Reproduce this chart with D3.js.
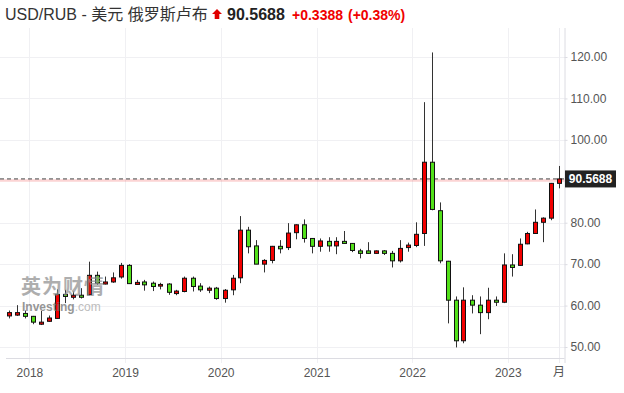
<!DOCTYPE html>
<html><head><meta charset="utf-8">
<script src="https://cdn.jsdelivr.net/npm/d3@7/dist/d3.min.js"></script>
<style>
html,body{margin:0;padding:0;background:#fff;}
svg{display:block;}
</style></head>
<body>
<svg id="chart" width="624" height="393"></svg>
<script>
const months = ["2017-10","2017-11","2017-12",
"2018-01","2018-02","2018-03","2018-04","2018-05","2018-06","2018-07","2018-08","2018-09","2018-10","2018-11","2018-12",
"2019-01","2019-02","2019-03","2019-04","2019-05","2019-06","2019-07","2019-08","2019-09","2019-10","2019-11","2019-12",
"2020-01","2020-02","2020-03","2020-04","2020-05","2020-06","2020-07","2020-08","2020-09","2020-10","2020-11","2020-12",
"2021-01","2021-02","2021-03","2021-04","2021-05","2021-06","2021-07","2021-08","2021-09","2021-10","2021-11","2021-12",
"2022-01","2022-02","2022-03","2022-04","2022-05","2022-06","2022-07","2022-08","2022-09","2022-10","2022-11","2022-12",
"2023-01","2023-02","2023-03","2023-04","2023-05","2023-06","2023-07"];
const openV = [57.5,57.7,58.1,
57.4,55.5,56.2,56.9,62.7,62.0,62.5,62.6,67.3,65.2,65.7,66.9,
69.7,65.1,65.7,65.4,64.7,65.2,62.9,63.4,66.6,64.7,63.7,64.2,
61.7,63.8,66.7,78.2,74.4,70.0,70.9,74.3,74.0,77.6,79.5,76.2,
74.3,75.5,74.4,75.5,75.0,73.2,73.2,72.6,73.2,72.6,70.8,74.0,
74.5,77.4,94.6,82.9,70.7,61.3,51.5,61.3,60.1,58.3,61.3,60.8,
69.8,69.7,74.9,77.4,80.1,81.1,89.5];
const highV = [58.8,60.1,58.8,
57.5,58.7,57.6,63.9,63.8,63.4,64.2,70.6,68.2,67.0,68.0,70.3,
70.0,66.2,66.2,65.8,65.5,65.4,63.8,67.0,67.0,65.4,64.6,64.5,
64.0,67.4,81.6,79.0,75.8,71.2,74.4,75.8,79.9,79.6,80.8,76.3,
76.2,76.5,76.5,78.0,75.1,73.7,75.3,73.3,73.4,73.2,75.8,75.2,
80.1,109.1,121.1,84.9,70.8,62.2,64.4,62.5,62.2,64.3,62.2,72.6,
72.4,76.2,77.8,83.2,81.3,89.6,93.7];
const lowV = [56.9,57.5,56.9,
55.5,55.3,56.1,56.8,60.6,61.5,61.7,62.5,65.0,65.1,65.5,66.5,
65.2,65.0,63.6,63.5,63.9,62.6,62.5,63.2,63.4,63.3,63.0,61.4,
60.7,62.5,65.4,72.6,70.0,68.0,70.2,72.6,73.4,76.0,75.2,72.6,
73.0,73.0,72.4,74.9,72.9,71.4,72.5,72.5,72.2,69.2,70.4,73.0,
74.1,74.4,83.0,70.2,55.7,49.9,50.9,58.1,53.1,56.7,59.9,60.6,
67.0,69.6,74.8,77.3,75.3,80.6,88.3];
const closeV = [58.3,58.3,57.4,
56.0,56.0,57.0,62.7,62.2,62.5,62.0,67.3,65.4,65.7,66.7,69.7,
65.3,65.6,65.0,64.6,65.1,63.2,63.5,66.6,64.6,63.8,64.2,61.7,
63.7,66.6,78.2,74.2,70.0,70.9,74.3,73.7,77.5,79.5,76.2,74.3,
75.6,74.4,75.5,75.0,73.3,72.6,72.6,73.2,72.6,70.8,73.8,74.6,
77.2,94.6,83.2,70.8,61.3,51.5,61.3,60.1,58.3,61.3,60.8,69.8,
69.2,74.8,77.4,80.1,81.1,89.5,90.5688];
const yTicks = [50,60,70,80,90,100,110,120];
const yearTicks = ["2018","2019","2020","2021","2022","2023"];
const lastPrice = 90.5688;
const titleText = "USD/RUB - 美元 俄罗斯卢布";
const priceText = "90.5688";
const changeText = "+0.3388";
const pctText = "(+0.38%)";

const svg = d3.select("#chart");
const plotL = 0, plotR = 564.5, plotT = 28, plotB = 358;
const parse = d3.timeParse("%Y-%m");
const x = d3.scaleTime().domain([new Date(2017,9,1), new Date(2023,7,1)]).range([5.3, 563.3]);
const y = d3.scaleLinear().domain([50,120]).range([347,57]);
const mid = m => { const d = parse(m); return new Date(d.getFullYear(), d.getMonth(), 16); };
const data = months.map((m,i)=>({m, t: mid(m), o: openV[i], h: highV[i], l: lowV[i], c: closeV[i]}));

// grid
const g = svg.append("g");
g.selectAll("line.hg").data(yTicks.filter(v=>v!==90)).enter().append("line")
  .attr("x1", plotL).attr("x2", plotR).attr("y1", d=>Math.round(y(d))+0.5).attr("y2", d=>Math.round(y(d))+0.5)
  .attr("stroke", "#f0f0f3").attr("stroke-width", 1);
const yearDates = yearTicks.map(s=>new Date(+s,0,1));
g.selectAll("line.vg").data(yearDates).enter().append("line")
  .attr("x1", d=>Math.round(x(d))+0.5).attr("x2", d=>Math.round(x(d))+0.5)
  .attr("y1", plotT).attr("y2", plotB+5)
  .attr("stroke", "#f0f0f3").attr("stroke-width", 1);
const lastT = data[data.length-1].t;
g.append("line").attr("x1", Math.round(x(lastT))+0.5).attr("x2", Math.round(x(lastT))+0.5)
  .attr("y1", plotT).attr("y2", plotB+5).attr("stroke","#ececf0");

// axes
const xAxis = d3.axisBottom(x).tickValues(yearDates).tickFormat(d3.timeFormat("%Y")).tickSize(0).tickPadding(8);
const xg = svg.append("g").attr("transform", `translate(0,${plotB})`).call(xAxis);
xg.select(".domain").remove();
xg.selectAll("text").attr("font-family","'Liberation Sans', Arial, sans-serif").attr("font-size",12).attr("fill","#555").attr("dy","0.9em");
svg.append("line").attr("x1",6).attr("x2",plotR).attr("y1",plotB+0.5).attr("y2",plotB+0.5).attr("stroke","#dcdce2");
svg.append("text").attr("x", x(lastT)).attr("y", plotB+18).attr("text-anchor","middle")
  .attr("font-family","'Noto Sans CJK SC', sans-serif").attr("font-size",12).attr("fill","#555").text("月");

const yAxis = d3.axisRight(y).tickValues(yTicks.filter(v=>v!==90)).tickFormat(d3.format(".2f")).tickSize(3).tickPadding(3);
const yg = svg.append("g").attr("transform", `translate(${plotR},0)`).call(yAxis);
yg.select(".domain").attr("stroke","#dcdce2").attr("d", `M0.5,${plotT}V${plotB+5}`);
yg.selectAll(".tick line").attr("stroke","#dcdce2");
yg.selectAll("text").attr("font-family","'Liberation Sans', Arial, sans-serif").attr("font-size",12).attr("fill","#555");

// price line
svg.append("line").attr("x1",0).attr("x2",plotR).attr("y1",y(lastPrice)+1.5).attr("y2",y(lastPrice)+1.5)
  .attr("stroke","rgba(240,60,60,0.22)").attr("stroke-width",2.5);
svg.append("line").attr("x1",0).attr("x2",plotR).attr("y1",y(lastPrice)).attr("y2",y(lastPrice))
  .attr("stroke","#444").attr("stroke-width",1).attr("stroke-dasharray","4,3");

// candles
const cg = svg.append("g");
cg.selectAll("line.wick").data(data).enter().append("line")
  .attr("x1", d=>Math.round(x(d.t))+0.5).attr("x2", d=>Math.round(x(d.t))+0.5)
  .attr("y1", d=>y(d.h)).attr("y2", d=>y(d.l)).attr("stroke","#333").attr("stroke-width",1);
const bw = 4;
cg.selectAll("rect.body").data(data).enter().append("rect")
  .attr("x", d=>Math.round(x(d.t))+0.5-bw/2)
  .attr("y", d=>y(Math.max(d.o,d.c)))
  .attr("width", bw)
  .attr("height", d=>Math.max(1.5, Math.abs(y(d.o)-y(d.c))))
  .attr("fill", d=> d.c>=d.o ? "#f20000" : "#52e01a")
  .attr("stroke","#111").attr("stroke-width",1);

// price label
const pl = svg.append("g").attr("transform", `translate(565,${y(lastPrice)})`);
pl.append("rect").attr("x",0).attr("y",-8.5).attr("width",51).attr("height",17).attr("fill","#222");
pl.append("text").attr("x",25.5).attr("y",4.5).attr("text-anchor","middle")
  .attr("font-family","'Liberation Sans', Arial, sans-serif").attr("font-weight","bold").attr("font-size",12)
  .attr("fill","#fff").text(priceText);

// watermark
const wm = svg.append("g").attr("opacity",0.72);
wm.append("text").attr("x",21).attr("y",294).attr("font-family","'Noto Sans CJK SC', sans-serif")
  .attr("font-weight","bold").attr("font-size",20).attr("fill","#8f8f8f").attr("letter-spacing",1).text("英为财情");
const wt = wm.append("text").attr("x",22).attr("y",311).attr("font-family","'Liberation Sans', Arial, sans-serif").attr("font-size",12);
wt.append("tspan").attr("font-weight","bold").attr("fill","#6f6f6f").text("Investing");
wt.append("tspan").attr("fill","#a5a5a5").text(".com");

// title
svg.append("text").attr("x",5).attr("y",20)
  .attr("font-family","'Liberation Sans', 'Noto Sans CJK SC', sans-serif").attr("font-size",16).attr("fill","#333")
  .text(titleText);
svg.append("path").attr("d","M217,9 L222,14 L219.3,14 L219.3,19 L214.7,19 L214.7,14 L212,14 Z").attr("fill","#e00000");
svg.append("text").attr("x",227).attr("y",20).attr("font-family","'Liberation Sans', Arial, sans-serif")
  .attr("font-weight","bold").attr("font-size",16).attr("fill","#222").text(priceText);
svg.append("text").attr("x",292).attr("y",20).attr("font-family","'Liberation Sans', Arial, sans-serif")
  .attr("font-weight","bold").attr("font-size",14).attr("fill","#f00000").text(changeText);
svg.append("text").attr("x",348).attr("y",20).attr("font-family","'Liberation Sans', Arial, sans-serif")
  .attr("font-weight","bold").attr("font-size",14).attr("fill","#f00000").text(pctText);
</script>
</body></html>
